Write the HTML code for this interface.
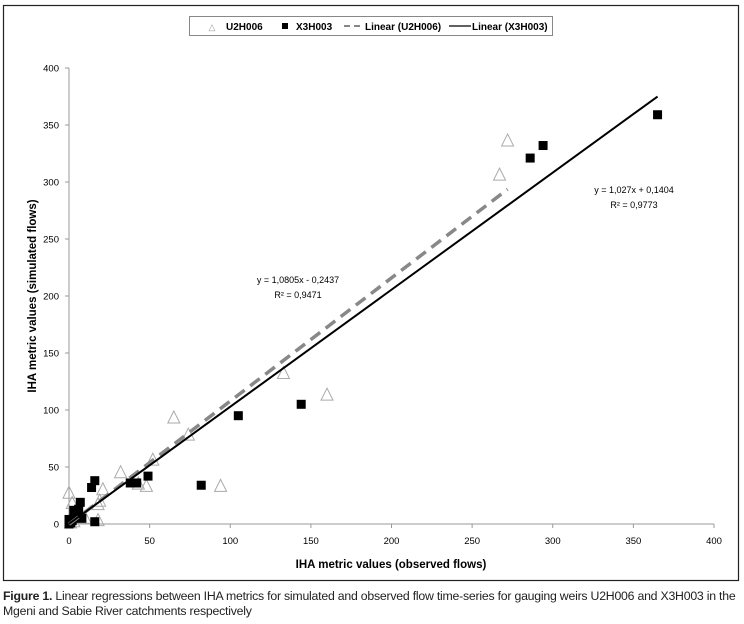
<!DOCTYPE html>
<html><head><meta charset="utf-8"><style>
body{margin:0;background:#fff;width:744px;height:624px;overflow:hidden;font-family:"Liberation Sans",sans-serif}
#cap{position:absolute;left:3px;top:589px;font-size:12.3px;line-height:15px;color:#222;letter-spacing:-0.23px;white-space:nowrap}
</style></head><body>
<svg id="chart" width="744" height="588" style="position:absolute;left:0;top:0" font-family="Liberation Sans, sans-serif">
<rect x="3.5" y="5.5" width="735" height="575" fill="none" stroke="#222" stroke-width="1.2"/>
<g>
<rect x="189.5" y="16.5" width="363" height="19" fill="#fff" stroke="#888"/>
<text x="212" y="30" font-size="9" fill="#999" text-anchor="middle">△</text>
<text x="226" y="30" font-size="10" font-weight="bold">U2H006</text>
<rect x="282" y="23" width="6" height="6" fill="#000"/>
<text x="296" y="30" font-size="10" font-weight="bold">X3H003</text>
<line x1="344" y1="26" x2="363" y2="26" stroke="#888" stroke-width="2" stroke-dasharray="6,4"/>
<text x="365" y="30" font-size="10" font-weight="bold">Linear (U2H006)</text>
<line x1="449" y1="26" x2="471" y2="26" stroke="#000" stroke-width="1.2"/>
<text x="472" y="30" font-size="10" font-weight="bold">Linear (X3H003)</text>
</g>
<g id="axes"></g>
<g id="marks"></g>
<text transform="translate(36,296) rotate(-90)" text-anchor="middle" font-size="11.5" font-weight="bold">IHA metric values (simulated flows)</text>
<text x="391" y="568" text-anchor="middle" font-size="11.5" font-weight="bold">IHA metric values (observed flows)</text>
<g font-size="9" text-anchor="middle"><text x="298" y="283">y = 1,0805x - 0,2437</text><text x="298" y="298">R² = 0,9471</text></g>
<g font-size="9" text-anchor="middle"><text x="634" y="193">y = 1,027x + 0,1404</text><text x="634" y="208">R² = 0,9773</text></g>
</svg>
<div id="cap"><b>Figure 1.</b> Linear regressions between IHA metrics for simulated and observed flow time-series for gauging weirs U2H006 and X3H003 in the<br>Mgeni and Sabie River catchments respectively</div>
<script>
const xTicks=[0,50,100,150,200,250,300,350,400];
const yTicks=[0,50,100,150,200,250,300,350,400];
const sqX=[365,294,286,144,105,82,49,42,38,16,14,16,7,5,4,3,6,2,1,0,8,3,0,1,5];
const sqY=[359,332,321,105,95,34,42,36,36,38,32,2,19,10,8,5,13,3,1,0,5,12,4,2,6];
const trX=[272,267,160,133,94,74,65,52,48,43,32,21,19,18,18,0,2,5,1,10,3];
const trY=[336,306,113,132,33,78,93,56,33,35,45,30,20,17,3,27,18,5,1,5,2];
const fitU=[1.0805,-0.2437,0,272];
const fitX=[1.027,0.1404,0,365];
const X=v=>69+v*1.6125, Y=v=>524-v*1.14;
const NS='http://www.w3.org/2000/svg';
function mk(t,a,p){const e=document.createElementNS(NS,t);for(const k in a)e.setAttribute(k,a[k]);p.appendChild(e);return e;}
const ax=document.getElementById('axes'),mg=document.getElementById('marks');
const xa=mk('line',{x1:X(0),y1:Y(0),x2:X(400),y2:Y(0),stroke:'#999'},ax);


const ya=mk('line',{x1:X(0),y1:Y(0),x2:X(0),y2:Y(400),stroke:'#999'},ax);


xTicks.forEach(t=>{mk('line',{x1:X(t),y1:Y(0),x2:X(t),y2:Y(0)+4,stroke:'#999'},ax);
const tx=mk('text',{x:X(t),y:Y(0)+20,'font-size':9.5,'text-anchor':'middle'},ax);tx.textContent=t;

});
yTicks.forEach(t=>{mk('line',{x1:X(0)-4,y1:Y(t),x2:X(0),y2:Y(t),stroke:'#999'},ax);
const tx=mk('text',{x:X(0)-10,y:Y(t)+3.5,'font-size':9.5,'text-anchor':'end'},ax);tx.textContent=t;

});
trX.forEach((v,i)=>{const cx=X(v),cy=Y(trY[i]);
const p=mk('polygon',{points:`${cx},${cy-7} ${cx-6},${cy+5} ${cx+6},${cy+5}`,fill:'none',stroke:'#aaa','stroke-width':1},mg);

});
sqX.forEach((v,i)=>{
const r=mk('rect',{x:X(v)-4.5,y:Y(sqY[i])-4.5,width:9,height:9,fill:'#000'},mg);

});
const lu=mk('line',{x1:X(fitU[2]),y1:Y(fitU[0]*fitU[2]+fitU[1]),x2:X(fitU[3]),y2:Y(fitU[0]*fitU[3]+fitU[1]),stroke:'#888','stroke-width':3.5,'stroke-dasharray':'12,7'},mg);


const lx=mk('line',{x1:X(fitX[2]),y1:Y(fitX[0]*fitX[2]+fitX[1]),x2:X(fitX[3]),y2:Y(fitX[0]*fitX[3]+fitX[1]),stroke:'#000','stroke-width':2},mg);


</script>
</body></html>
